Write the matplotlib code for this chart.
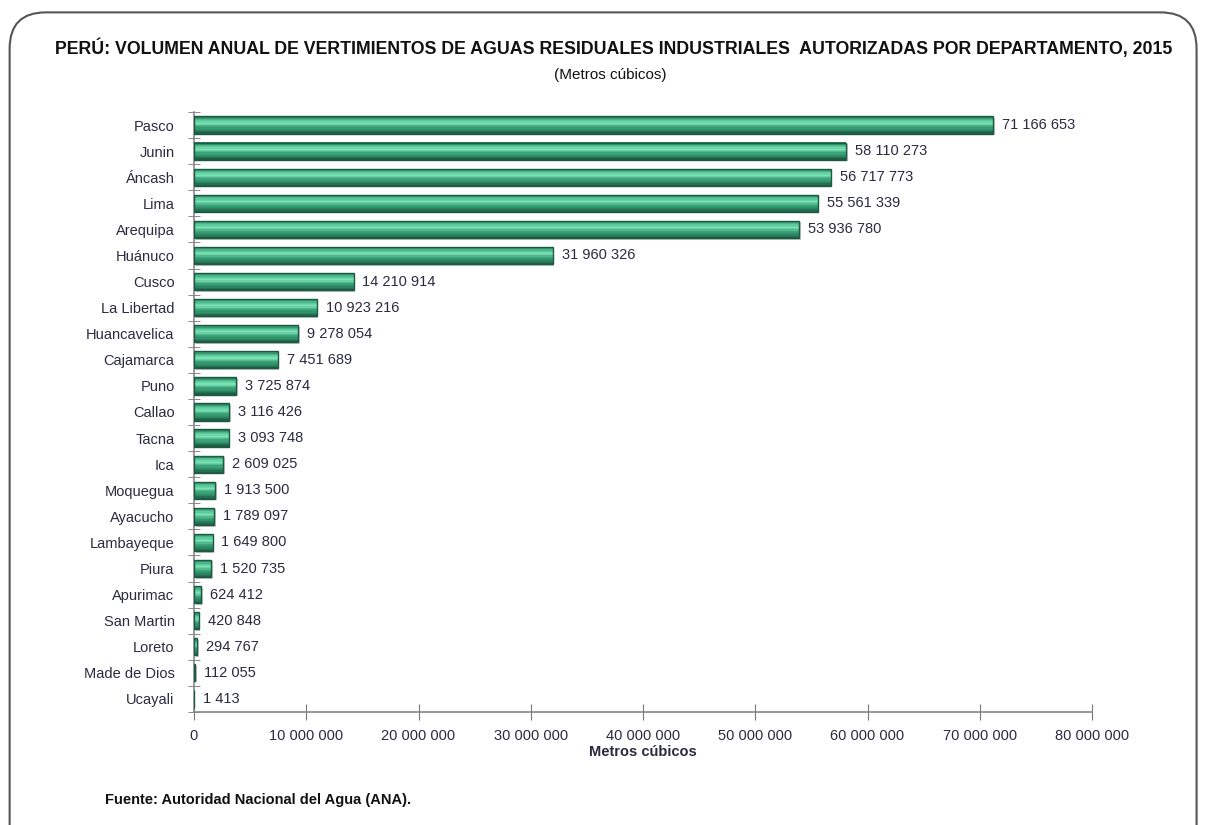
import matplotlib.pyplot as plt
import numpy as np
from matplotlib.patches import FancyBboxPatch
from matplotlib.ticker import FuncFormatter
from matplotlib.colors import LinearSegmentedColormap

departamentos = ["Pasco", "Junin", "Áncash", "Lima", "Arequipa", "Huánuco", "Cusco",
                 "La Libertad", "Huancavelica", "Cajamarca", "Puno", "Callao", "Tacna",
                 "Ica", "Moquegua", "Ayacucho", "Lambayeque", "Piura", "Apurimac",
                 "San Martin", "Loreto", "Made de Dios", "Ucayali"]
volumen = [71166653, 58110273, 56717773, 55561339, 53936780, 31960326, 14210914,
           10923216, 9278054, 7451689, 3725874, 3116426, 3093748, 2609025, 1913500,
           1789097, 1649800, 1520735, 624412, 420848, 294767, 112055, 1413]
xticks = [0, 10e6, 20e6, 30e6, 40e6, 50e6, 60e6, 70e6, 80e6]

plt.rcParams['font.family'] = ['Liberation Sans Narrow', 'Liberation Sans', 'DejaVu Sans']
txt = '#2b2b40'

def miles(v, pos=None):
    return f"{int(round(v)):,}".replace(",", " ")

fig = plt.figure(figsize=(12.05, 8.25), dpi=100)

# marco redondeado
frame = FancyBboxPatch((0.008, -0.05), 0.985, 1.035, boxstyle="round,pad=0,rounding_size=0.03",
                       transform=fig.transFigure, facecolor='none', edgecolor='#555555',
                       linewidth=1.5, mutation_aspect=1205 / 825, zorder=-1)
fig.patches.append(frame)

ax = fig.add_axes([194 / 1205, 1 - 712 / 825, (1092 - 194) / 1205, 600 / 825])
ax.set_facecolor('none')
y = np.arange(len(departamentos))

# efecto cilindro: franjas finas con degradado vertical
h = 0.66
grad = LinearSegmentedColormap.from_list("cil", ["#2a7d5f", "#55c796", "#7fe3b8", "#3ea67b",
                                                 "#2f8f68", "#1f5e45"])
n = 14
ax.barh(y + 0.06, volumen, height=h, left=150000, color='#c8c8c8', linewidth=0, zorder=2)
for k in range(n):
    off = -h / 2 + (k + 0.5) * h / n
    ax.barh(y + off, volumen, height=h / n * 1.05, color=grad(k / (n - 1)), linewidth=0, zorder=3)
ax.barh(y, volumen, height=h, color='none', edgecolor='#1d5a44', linewidth=1.0, zorder=4)

for yi, v in zip(y, volumen):
    ax.text(v + 800000, yi, miles(v), va='center', ha='left', fontsize=10.5, color=txt)

ax.set_ylim(len(departamentos) - 0.5, -0.5)
ax.set_xlim(0, 80e6)
ax.set_yticks(y)
ax.set_yticklabels(departamentos, fontsize=10.5, color=txt)
ax.set_yticks(np.arange(-0.5, len(departamentos)), minor=True)
ax.tick_params(axis='y', which='major', length=0, pad=14)
ax.tick_params(axis='y', which='minor', length=8, direction='inout', color='#777777')
ax.set_xticks(xticks)
ax.xaxis.set_major_formatter(FuncFormatter(miles))
ax.tick_params(axis='x', length=12, direction='inout', color='#777777', labelsize=10.5,
               labelcolor=txt, pad=6)
for s in ['top', 'right']:
    ax.spines[s].set_visible(False)
ax.spines['left'].set_color('#888888')
ax.spines['bottom'].set_color('#888888')
ax.spines['left'].set_linewidth(1.2)
ax.spines['bottom'].set_linewidth(1.2)
ax.set_xlabel("Metros cúbicos", fontsize=10.5, fontweight='bold', color=txt, labelpad=2)

fig.text(614 / 1205, 1 - 48 / 825,
         "PERÚ: VOLUMEN ANUAL DE VERTIMIENTOS DE AGUAS RESIDUALES INDUSTRIALES  AUTORIZADAS POR DEPARTAMENTO, 2015",
         ha='center', va='center', fontsize=12.8, fontweight='bold', color='#111111')
fig.text(610 / 1205, 1 - 75 / 825, "(Metros cúbicos)", ha='center', va='center',
         fontsize=11, color='#111111')
fig.text(105 / 1205, 1 - 800 / 825, "Fuente: Autoridad Nacional del Agua (ANA).",
         ha='left', va='center', fontsize=10.5, fontweight='bold', color='#111111')

fig.savefig("out.png", dpi=100)
